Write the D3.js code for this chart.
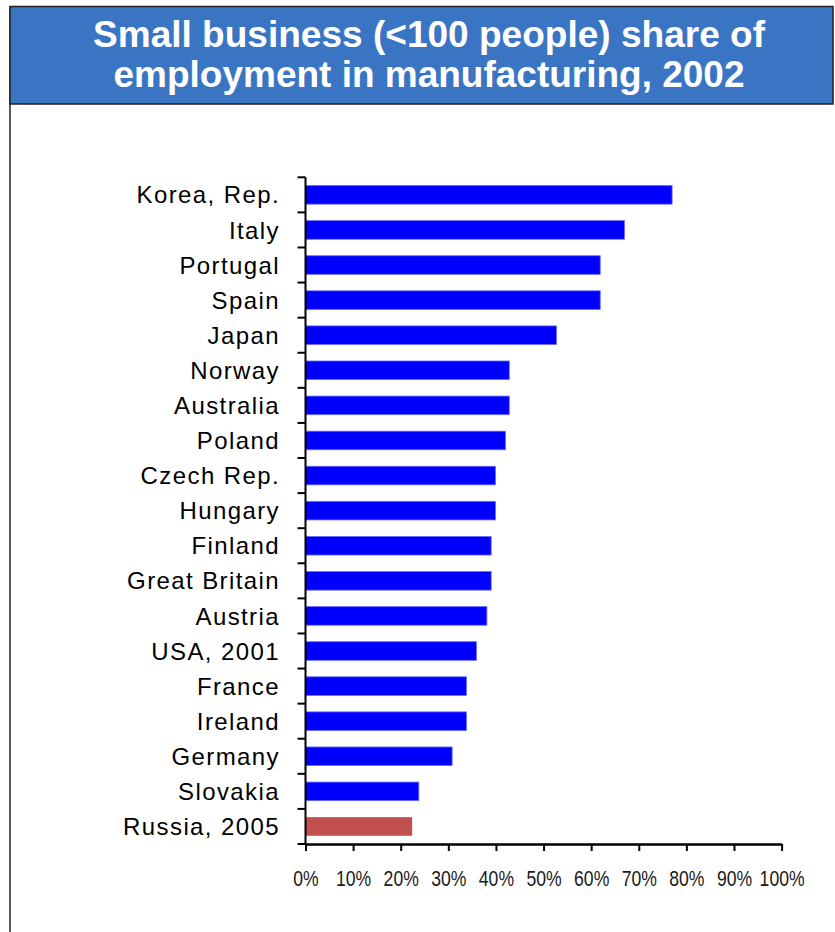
<!DOCTYPE html>
<html>
<head>
<meta charset="utf-8">
<script src="https://cdn.jsdelivr.net/npm/d3@7/dist/d3.min.js"></script>
<style>
  html, body { margin: 0; padding: 0; background: #fff; }
  svg { display: block; }
</style>
</head>
<body>
<script>
// ---- data ----
const countries = ["Korea, Rep.", "Italy", "Portugal", "Spain", "Japan", "Norway", "Australia", "Poland",
  "Czech Rep.", "Hungary", "Finland", "Great Britain", "Austria", "USA, 2001", "France", "Ireland",
  "Germany", "Slovakia", "Russia, 2005"];
const shares = [77.0, 67.0, 61.9, 61.9, 52.7, 42.8, 42.8, 42.0, 39.9, 39.9, 39.0, 39.0, 38.1, 35.9, 33.8, 33.8, 30.8, 23.8, 22.4];
const highlighted = ["Russia, 2005"];
const xTicks = [0, 10, 20, 30, 40, 50, 60, 70, 80, 90, 100];
const titleLines = ["Small business (<100 people) share of", "employment in manufacturing, 2002"];

const W = 835, H = 932;
const svg = d3.select("body").append("svg").attr("width", W).attr("height", H);

// frame
svg.append("line").attr("x1", 10).attr("x2", 10).attr("y1", 7).attr("y2", H)
  .attr("stroke", "#222").attr("stroke-width", 1.5);
svg.append("rect").attr("x", 10).attr("y", 6.5).attr("width", 823).attr("height", 97.5)
  .attr("fill", "#3a75c4").attr("stroke", "#222").attr("stroke-width", 1.5);

// title
const tl = svg.append("g");
const titleWidths = [672, 631];
const titleBaselines = [47, 87];
titleLines.forEach((t, i) => {
  tl.append("text").attr("x", 429).attr("y", titleBaselines[i])
    .attr("text-anchor", "middle")
    .attr("font-family", "'Liberation Sans', Arial, sans-serif")
    .attr("font-weight", "bold").attr("font-size", 36).attr("fill", "#fff")
    .attr("textLength", titleWidths[i]).attr("lengthAdjust", "spacingAndGlyphs")
    .text(t);
});

// scales
const x0 = 305.5, x1 = 781.6, yTop = 177.3, yBot = 844;
const x = d3.scaleLinear().domain([0, 100]).range([x0, x1]);
const y = d3.scaleBand().domain(countries).range([yTop, yBot]).paddingInner(0.47).paddingOuter(0.235);

// bars
svg.append("g").selectAll("rect").data(countries).join("rect")
  .attr("x", x(0))
  .attr("y", d => y(d))
  .attr("width", (d, i) => x(shares[i]) - x(0))
  .attr("height", y.bandwidth())
  .attr("fill", d => highlighted.includes(d) ? "#c0504d" : "#0000ff")
  .attr("stroke", d => highlighted.includes(d) ? "none" : "#6a6aff")
  .attr("stroke-width", 0.8);

// y axis: line + ticks at band boundaries
const yAxisG = svg.append("g");
const boundaries = d3.range(countries.length + 1).map(i => yTop + i * (yBot - yTop) / countries.length);
yAxisG.append("line").attr("x1", x0).attr("x2", x0).attr("y1", yTop).attr("y2", yBot)
  .attr("stroke", "#000").attr("stroke-width", 2);
yAxisG.selectAll("line.tk").data(boundaries).join("line").attr("class", "tk")
  .attr("x1", x0 - 8).attr("x2", x0).attr("y1", d => d).attr("y2", d => d)
  .attr("stroke", "#000").attr("stroke-width", 2);

// category labels
yAxisG.selectAll("text").data(countries).join("text")
  .attr("x", 280).attr("y", d => y(d) + y.bandwidth() / 2)
  .attr("dy", "0.36em").attr("text-anchor", "end")
  .attr("font-family", "'Liberation Sans', Arial, sans-serif")
  .attr("font-size", 24).attr("letter-spacing", 1.4).attr("fill", "#000")
  .text(d => d);

// x axis
const xAxis = d3.axisBottom(x).tickValues(xTicks).tickSize(7).tickSizeOuter(0).tickPadding(19)
  .tickFormat(d => d + "%");
const xg = svg.append("g").attr("transform", `translate(0,${yBot})`).call(xAxis);
xg.select(".domain").attr("stroke", "#000").attr("stroke-width", 2.5);
xg.selectAll(".tick line").attr("stroke", "#000").attr("stroke-width", 2);
xg.selectAll(".tick text")
  .attr("font-family", "'Liberation Sans', Arial, sans-serif")
  .attr("font-size", 22).attr("fill", "#1a1a1a")
  .each(function () {
    const w = this.getComputedTextLength();
    d3.select(this).attr("textLength", w * 0.8).attr("lengthAdjust", "spacingAndGlyphs");
  });
</script>
</body>
</html>
